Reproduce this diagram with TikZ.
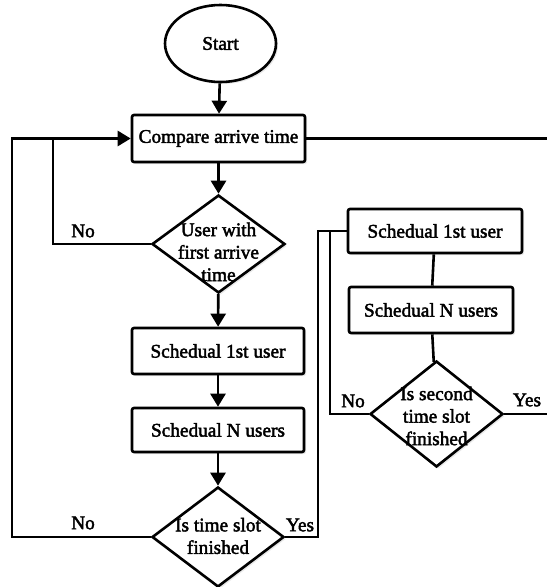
\documentclass[tikz,border=0pt]{standalone}
\usepackage{fontspec}
\setmainfont{Liberation Serif}[FakeBold=2.2]
\usetikzlibrary{shapes.geometric,arrows.meta,shadows}
\begin{document}
\begin{tikzpicture}[x=1pt,y=-1pt,
  line width=2.6pt,
  every node/.style={font=\fontsize{19.3}{22.5}\selectfont},
  arr/.style={-{Triangle[width=15pt,length=13pt]}},
  shad/.style={drop shadow={opacity=0.18,shadow xshift=2pt,shadow yshift=-2pt}},
  procbox/.style={draw,fill=white,rounded corners=2pt,shad,minimum height=45pt,inner sep=0pt},
  decision/.style={draw,fill=white,diamond,aspect=1.36,inner sep=0pt,shad},
  term/.style={draw,fill=white,ellipse,inner sep=0pt,shad},
  lbl/.style={inner sep=0pt}]
\useasboundingbox (0,0) rectangle (547,587);
% nodes
\node[term,minimum width=111pt,minimum height=77pt] (start) at (220.5,43.5) {Start};
\node[procbox,minimum width=173pt,minimum height=47pt] (cmp) at (218.5,138.5) {Compare arrive time};
\node[decision,minimum width=133pt,minimum height=98pt] (d1) at (218.5,244) {};
\node[lbl,align=center] (d1t) at (218.5,252) {User with\\first arrive\\time};
\node[procbox,minimum width=172pt,minimum height=46pt] (s1) at (218,351) {Schedual 1st user};
\node[procbox,minimum width=172pt,minimum height=44pt] (sN) at (218,430) {Schedual N users};
\node[decision,minimum width=132pt,minimum height=100pt] (d2) at (218,537) {};
\node[lbl,align=center] (d2t) at (218,536) {Is time slot\\finished};
\node[procbox,minimum width=174pt,minimum height=44pt] (r1) at (435,231) {Schedual 1st user};
\node[procbox,minimum width=164pt,minimum height=46pt] (rN) at (431,310) {Schedual N users};
\node[decision,minimum width=133pt,minimum height=106pt] (d3) at (436.5,414) {};
\node[lbl,align=center] (d3t) at (436.5,416) {Is second\\time slot\\finished};
% labels
\node[lbl] (no1) at (83,231) {No};
\node[lbl] (no2) at (83,523) {No};
\node[lbl] (yes2) at (300,525) {Yes};
\node[lbl] (no3) at (353,401) {No};
\node[lbl] (yes3) at (527,400) {Yes};
% helper coordinates
\coordinate (xo) at (12,0);
\coordinate (xi) at (53,0);
\coordinate (xr) at (318,0);
\coordinate (xri) at (330,0);
\coordinate (edge1) at (547,138.5);
\coordinate (edge2) at (547,414);
% connectors
\draw[arr] (start) -- (cmp);
\draw[arr] (cmp) -- (d1);
\draw[arr] (d1) -- (s1);
\draw[arr] (s1) -- (sN);
\draw[arr] (sN) -- (d2);
\draw[arr] (d1.west) -- (d1.west -| xi) -- (cmp.west -| xi) -- (cmp.west);
\draw (d2.west) -- (d2.west -| xo) -- (cmp.west -| xo) -- (cmp.west -| xi);
\draw (cmp.east) -- (edge1);
\draw (d2.east) -- (d2.east -| xr) -- (r1.west -| xr) -- (r1.west);
\draw (r1) -- (rN);
\draw (rN) -- (d3);
\draw (d3.west) -- (d3.west -| xri) -- (r1.west -| xri);
\draw (d3.east) -- (edge2);
\end{tikzpicture}
\end{document}
